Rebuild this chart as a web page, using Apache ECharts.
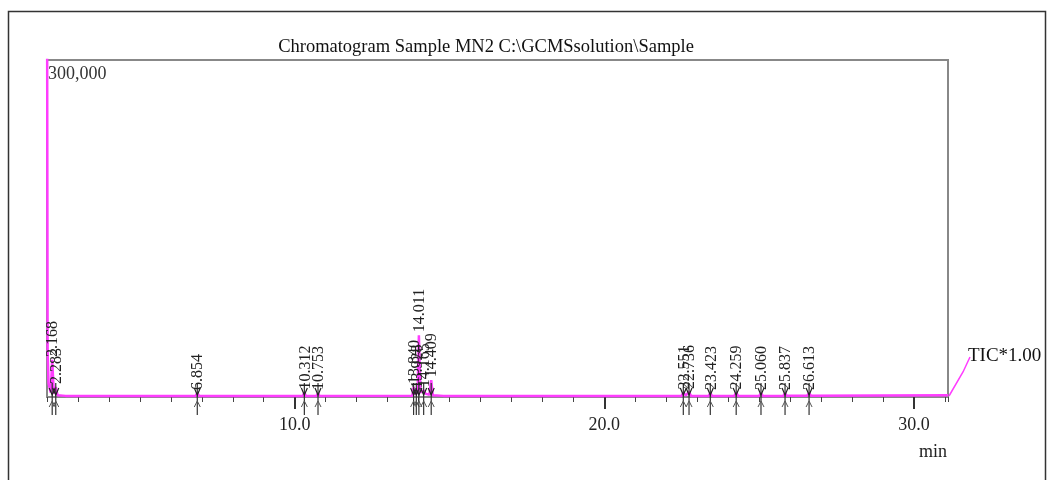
<!DOCTYPE html>
<html>
<head>
<meta charset="utf-8">
<script src="https://cdn.jsdelivr.net/npm/echarts@6/dist/echarts.min.js"></script>
<style>
  html, body { margin: 0; padding: 0; background: #fff; }
  #main { width: 1053px; height: 480px; }
</style>
</head>
<body>
<div id="main"></div>
<script>
// retention time (min) / intensity of the TIC trace
const ticTimes = [2.00, 2.02, 2.05, 2.12, 2.168, 2.22, 2.283, 2.34, 2.60,
  6.80, 6.854, 6.91, 10.26, 10.312, 10.36, 10.70, 10.753, 10.80,
  13.80, 13.840, 13.88, 13.928, 13.97, 14.011, 14.06, 14.165, 14.22, 14.35, 14.409, 14.46, 14.80,
  22.50, 22.551, 22.63, 22.736, 22.80, 23.37, 23.423, 23.48, 24.20, 24.259, 24.32,
  25.00, 25.060, 25.12, 25.78, 25.837, 25.89, 26.55, 26.613, 26.67, 31.10];
const ticValues = [400000, 40000, 12000, 4000, 33000, 3000, 9000, 1500, 1000,
  900, 3500, 900, 900, 4000, 900, 900, 3500, 900,
  1200, 9000, 2500, 5000, 3000, 55000, 4000, 6000, 3000, 2000, 15000, 1500, 1000,
  1000, 4000, 1500, 4500, 1000, 1000, 3500, 1000, 1000, 4000, 1000,
  1000, 3500, 1000, 1000, 3500, 1200, 1200, 3500, 1200, 1500];

// integrated peaks: retention time and apex intensity
const peakTimes = [2.168, 2.283, 6.854, 10.312, 10.753, 13.840, 13.928, 14.011, 14.165, 14.409,
  22.551, 22.736, 23.423, 24.259, 25.060, 25.837, 26.613];
const peakHeights = [33000, 9000, 3500, 4000, 3500, 9000, 5000, 55000, 6000, 15000,
  4000, 4500, 3500, 4000, 3500, 3500, 3500];

const majorTicks = [10, 20, 30];
const yTopLabel = [300000];

const serif = '"Liberation Serif", "DejaVu Serif", serif';
const chart = echarts.init(document.getElementById('main'));

chart.setOption({
  animation: false,
  backgroundColor: '#fff',
  title: {
    text: 'Chromatogram Sample MN2 C:\\GCMSsolution\\Sample',
    left: 481, top: 33, textAlign: 'center',
    textStyle: { fontFamily: serif, fontSize: 18.5, fontWeight: 'normal', color: '#111' }
  },
  grid: {
    left: 47, right: 105, top: 60, bottom: 83,
    show: true, borderColor: '#888', borderWidth: 2
  },
  xAxis: [
    {
      type: 'value', min: 2, max: 31.1, interval: 1,
      axisLine: { show: false },
      axisTick: { show: true, length: 5, inside: false, lineStyle: { color: '#444' } },
      axisLabel: { show: false },
      splitLine: { show: false }
    },
    {
      type: 'value', min: 2, max: 31.1, position: 'bottom',
      axisLine: { show: false },
      axisTick: { show: true, length: 12, customValues: majorTicks, lineStyle: { color: '#333', width: 2 } },
      axisLabel: {
        customValues: majorTicks, margin: 19,
        formatter: v => v.toFixed(1),
        fontFamily: serif, fontSize: 18, color: '#222'
      },
      splitLine: { show: false }
    }
  ],
  yAxis: {
    type: 'value', min: 0, max: 300000,
    axisLine: { show: false }, axisTick: { show: false }, splitLine: { show: false },
    axisLabel: {
      inside: true, customValues: yTopLabel, margin: 1, verticalAlign: 'top',
      formatter: v => v.toLocaleString('en-US'),
      fontFamily: serif, fontSize: 18, color: '#333', padding: [5, 0, 0, 0]
    }
  },
  series: [
    {
      type: 'line', xAxisIndex: 0,
      data: ticTimes.map((t, i) => [t, ticValues[i]]),
      showSymbol: false, clip: true,
      lineStyle: { color: '#ff3cff', width: 2.5 },
      z: 3
    },
    {
      type: 'custom', xAxisIndex: 0,
      data: peakTimes.map((t, i) => [t, peakHeights[i]]),
      clip: false, z: 4,
      renderItem: (params, api) => {
        const t = api.value(0);
        const top = api.coord([t, api.value(1)]);
        const base = api.coord([t, 0]);
        const x = base[0];
        return {
          type: 'group',
          children: [
            { type: 'line', shape: { x1: x, y1: base[1] - 14, x2: x, y2: base[1] + 18 },
              style: { stroke: '#333', lineWidth: 1.2 } },
            { type: 'polyline', shape: { points: [[x - 3, base[1] - 9], [x, base[1] - 2], [x + 3, base[1] - 9]] },
              style: { stroke: '#222', lineWidth: 1.2, fill: null } },
            { type: 'polyline', shape: { points: [[x - 3, base[1] + 10], [x, base[1] + 4], [x + 3, base[1] + 10]] },
              style: { stroke: '#555', lineWidth: 1, fill: null } },
            { type: 'text', x: x + 1, y: Math.min(top[1], base[1]) - 3, rotation: Math.PI / 2,
              style: { text: t.toFixed(3), align: 'left', verticalAlign: 'middle',
                       font: '16px ' + serif, fill: '#222' } }
          ]
        };
      }
    }
  ],
  graphic: [
    { type: 'rect', shape: { x: 8.5, y: 11.5, width: 1037, height: 480 },
      style: { fill: null, stroke: '#333', lineWidth: 1.5 }, silent: true },
    { type: 'polyline', shape: { points: [[949, 396], [963, 372], [970, 357]] },
      style: { stroke: '#ff3cff', lineWidth: 1.5, fill: null } },
    { type: 'text', x: 968, y: 356,
      style: { text: 'TIC*1.00', font: '19px ' + serif, fill: '#111', verticalAlign: 'middle' } },
    { type: 'text', x: 933, y: 452,
      style: { text: 'min', font: '18px ' + serif, fill: '#222', align: 'center', verticalAlign: 'middle' } }
  ]
});
</script>
</body>
</html>
